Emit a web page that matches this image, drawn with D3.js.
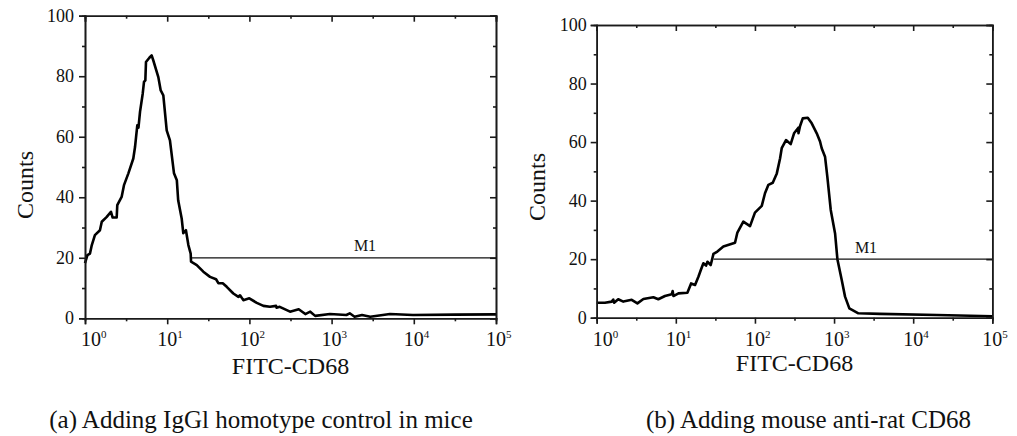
<!DOCTYPE html>
<html>
<head>
<meta charset="utf-8">
<script src="https://cdn.jsdelivr.net/npm/d3@7"></script>
<style>
  html, body { margin: 0; padding: 0; background: #fff; }
  svg { display: block; }
  text { font-family: "Liberation Serif", "Times New Roman", "DejaVu Serif", serif; fill: #111; }
</style>
</head>
<body>
<svg id="chart" width="1017" height="436"></svg>
<script>
// ---- data ----
const yTicks = [0, 20, 40, 60, 80, 100];
const xTickExps = ["0", "1", "2", "3", "4", "5"];
const xTicks = [1, 10, 100, 1000, 10000, 100000];

const captionA = "(a) Adding IgGl homotype control in mice";
const captionB = "(b) Adding mouse anti-rat CD68";
const xTitle = "FITC-CD68";
const yTitle = "Counts";
const markerLabel = "M1";

// Panel (a): IgG1 homotype control
const intensityA = [1.00,1.07,1.15,1.21,1.32,1.52,1.60,1.84,2.07,2.17,2.43,2.47,2.79,2.98,3.37,3.87,4.06,4.18,4.33,4.47,4.67,5.04,5.22,5.42,5.52,6.07,6.47,6.78,7.80,8.34,8.97,9.86,10.8,12.1,13.1,13.6,15.0,15.7,16.9,18.1,19.3,19.5,22.9,27.5,33.2,39.3,41.9,47.4,53.0,63.8,73.5,76.9,84.3,99.8,123,148,178,211,214,234,312,398,479,550,631,955,1514,1660,1905,2344,2951,5129,9772,31623,100000];
const countsA    = [18.2,20.9,21.4,24.2,27.5,29.1,31.9,33.5,35.2,33.3,33.3,37.4,40.1,44.0,47.9,52.8,56.6,59.9,63.8,63.0,68.2,74.3,78.1,78.6,84.7,86.1,86.9,85.2,79.7,75.3,73.7,62.1,58.8,47.9,45.6,39.0,33.0,28.1,29.1,24.2,21.4,18.7,17.6,15.4,13.7,12.9,11.6,11.6,10.4,8.2,7.1,7.6,6.0,6.6,5.1,4.1,3.8,4.1,3.5,3.8,2.2,3.0,1.4,2.2,0.8,1.4,1.1,1.65,0.5,1.1,0.5,1.4,1.1,1.2,1.3];
const markerA = [20, 100000];

// Panel (b): mouse anti-rat CD68
const intensityB = [1.00,1.27,1.55,1.62,1.66,1.87,2.17,2.77,3.27,3.89,5.20,6.01,7.29,8.87,9.12,9.33,10.8,14.0,15.6,17.5,19.3,20.7,22.3,24.1,25.1,27.6,29.9,33.5,39.9,56.0,60.0,71.3,86.7,100,122,134,148,168,189,208,218,247,283,312,354,355,372,402,465,522,604,665,698,769,822,908,1030,1102,1250,1377,1560,2028,3802,19953,100000];
const countsB    = [5.1,5.1,5.5,6.2,5.1,6.3,5.5,6.1,4.9,6.4,7.0,6.3,7.4,8.0,9.1,7.4,8.3,8.5,11.7,11.2,14.0,16.3,18.6,17.8,19.1,18.0,21.8,22.6,24.3,25.6,29.1,32.8,31.3,35.9,38.2,42.5,45.4,46.1,49.3,54.5,57.9,60.7,59.3,63.0,64.9,63.0,65.5,68.1,68.3,66.4,63.0,60.2,57.9,55.0,48.2,36.8,28.8,20.0,12.9,7.2,3.2,1.5,1.3,0.9,0.5];
const markerB = [30, 100000];
const markerLevel = 20;

// ---- drawing ----
const svg = d3.select("#chart");
const axisColor = "#1a1a1a";
const serif = "'Liberation Serif', 'Times New Roman', 'DejaVu Serif', serif";

function drawPanel(opt) {
  const x = d3.scaleLog().domain([1, 100000]).range([opt.left, opt.right]);
  const y = d3.scaleLinear().domain([0, 100]).range([opt.bottom, opt.top]);
  const g = svg.append("g").attr("font-family", serif);

  const minorX = [];
  for (let e = 0; e < 5; e++) minorX.push(Math.pow(10, e + 0.5));
  const minorY = [10, 30, 50, 70, 90];

  // curve
  const data = opt.xs.map((v, i) => [v, opt.ys[i]]);
  const line = d3.line().x(d => x(d[0])).y(d => y(d[1]));
  g.append("path").datum(data).attr("d", line)
    .attr("fill", "none").attr("stroke", "#000").attr("stroke-width", 2.6)
    .attr("stroke-linejoin", "round");

  // marker M1
  g.append("line")
    .attr("x1", x(opt.marker[0])).attr("x2", x(opt.marker[1]))
    .attr("y1", y(markerLevel)).attr("y2", y(markerLevel))
    .attr("stroke", "#111").attr("stroke-width", 1.3);
  g.append("text").attr("x", opt.m1x).attr("y", y(markerLevel) - 6.5)
    .attr("text-anchor", "middle").attr("font-size", 16).text(markerLabel);

  // axes: bottom (outward), left (outward), top (inward), right (inward)
  const bottom = d3.axisBottom(x).tickValues(xTicks).tickSize(6).tickFormat("");
  const bottomMinor = d3.axisBottom(x).tickValues(minorX).tickSize(3).tickFormat("");
  const left = d3.axisLeft(y).tickValues(yTicks).tickSize(6).tickFormat("");
  const leftMinor = d3.axisLeft(y).tickValues(minorY).tickSize(3).tickFormat("");
  const top = d3.axisTop(x).tickValues(xTicks).tickSize(-6).tickFormat("");
  const topMinor = d3.axisTop(x).tickValues(minorX).tickSize(-3).tickFormat("");
  const right = d3.axisRight(y).tickValues(yTicks).tickSize(-6).tickFormat("");
  const rightMinor = d3.axisRight(y).tickValues(minorY).tickSize(-3).tickFormat("");

  const add = (ax, tr) => {
    const a = g.append("g").attr("transform", tr).call(ax);
    a.selectAll("path.domain").attr("stroke", axisColor).attr("stroke-width", 1.6);
    a.selectAll(".tick line").attr("stroke", axisColor).attr("stroke-width", 1.6);
    return a;
  };
  add(bottom, `translate(0,${opt.bottom})`);
  add(bottomMinor, `translate(0,${opt.bottom})`);
  add(left, `translate(${opt.left},0)`);
  add(leftMinor, `translate(${opt.left},0)`);
  add(top, `translate(0,${opt.top})`);
  add(topMinor, `translate(0,${opt.top})`);
  add(right, `translate(${opt.right},0)`);
  add(rightMinor, `translate(${opt.right},0)`);

  // y tick labels
  g.selectAll("text.ylab").data(yTicks).enter().append("text")
    .attr("class", "ylab")
    .attr("x", opt.left - opt.ylabGap)
    .attr("y", d => y(d))
    .attr("dy", "0.34em")
    .attr("text-anchor", "end")
    .attr("font-size", 18)
    .text(d => d);

  // x tick labels 10^n
  xTicks.forEach((v, i) => {
    const cx = x(v) + (i === 0 ? 6 : 0);
    const t = g.append("text").attr("x", cx - 10).attr("y", 345.5)
      .attr("font-size", 20);
    t.append("tspan").text("10");
    t.append("tspan").attr("font-size", 11).attr("dy", -8).text(xTickExps[i]);
  });

  // titles
  g.append("text").attr("x", (opt.left + opt.right) / 2).attr("y", opt.xTitleY)
    .attr("text-anchor", "middle").attr("font-size", 24).text(xTitle);
  g.append("text")
    .attr("transform", `translate(${opt.yTitleX},${opt.yTitleY}) rotate(-90)`)
    .attr("text-anchor", "middle").attr("font-size", 24).text(yTitle);

  // caption
  g.append("text").attr("x", opt.capX).attr("y", 428)
    .attr("text-anchor", "middle").attr("font-size", 25).text(opt.caption);
}

drawPanel({
  left: 85, right: 496, top: 15.7, bottom: 318.3,
  xs: intensityA, ys: countsA, marker: markerA, m1x: 365,
  ylabGap: 11, xTitleY: 374, yTitleX: 33, yTitleY: 185,
  capX: 261, caption: captionA
});
drawPanel({
  left: 596.7, right: 992.3, top: 25, bottom: 317.7,
  xs: intensityB, ys: countsB, marker: markerB, m1x: 866,
  ylabGap: 10, xTitleY: 371, yTitleX: 545, yTitleY: 187,
  capX: 808.5, caption: captionB
});
</script>
</body>
</html>
